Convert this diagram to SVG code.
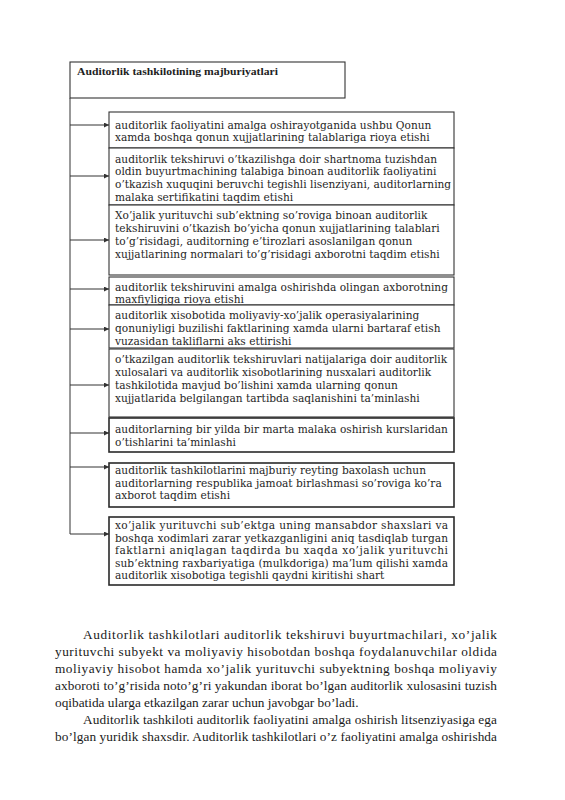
<svg xmlns="http://www.w3.org/2000/svg" width="565" height="800" viewBox="0 0 565 800">
<defs>
<style>
.bg{fill:#ffffff}
.box{fill:#ffffff;stroke:#333333;stroke-width:1.1}
.boxb{fill:#ffffff;stroke:#2a2a2a;stroke-width:1.6}
.t{font-family:"DejaVu Serif","Liberation Serif",serif;font-size:10.6px;fill:#262626}
.title{font-family:"Liberation Serif","Times New Roman",serif;font-size:11px;font-weight:bold;fill:#1e1e1e}
.p{font-family:"Liberation Serif","Times New Roman",serif;font-size:13.3px;fill:#1a1a1a}
.ln{fill:none;stroke:#333333;stroke-width:1}
</style>
<marker id="ah" viewBox="0 0 10 10" refX="10" refY="5" markerWidth="5" markerHeight="5" orient="auto" markerUnits="userSpaceOnUse">
<path d="M0,0 L10,5 L0,10 z" fill="#333333"/>
</marker>
</defs>
<rect class="bg" x="0" y="0" width="565" height="800"/>

<g id="header">
<rect class="box" x="70" y="62" width="275" height="36"/>
<text class="title" x="77" y="75" textLength="201" lengthAdjust="spacingAndGlyphs">Auditorlik tashkilotining majburiyatlari</text>
</g>

<g id="connectors">
<path class="ln" d="M70,98 L70,534"/>
<path class="ln" d="M70,125 L109,125" marker-end="url(#ah)"/>
<path class="ln" d="M70,176 L109,176" marker-end="url(#ah)"/>
<path class="ln" d="M70,240 L109,240" marker-end="url(#ah)"/>
<path class="ln" d="M70,289 L109,289" marker-end="url(#ah)"/>
<path class="ln" d="M70,329 L109,329" marker-end="url(#ah)"/>
<path class="ln" d="M70,385 L109,385" marker-end="url(#ah)"/>
<path class="ln" d="M70,433 L109,433" marker-end="url(#ah)"/>
<path class="ln" d="M70,467 L109,467" marker-end="url(#ah)"/>
<path class="ln" d="M70,534 L109,534" marker-end="url(#ah)"/>
</g>

<g id="n1">
<rect class="box" x="109" y="112" width="345" height="36"/>
<text class="t" x="115" y="128.5">auditorlik faoliyatini amalga oshirayotganida ushbu Qonun</text>
<text class="t" x="115" y="141">xamda boshqa qonun xujjatlarining talablariga rioya etishi</text>
</g>

<g id="n2">
<rect class="box" x="109" y="148" width="345" height="57"/>
<text class="t" x="115" y="162.5">auditorlik tekshiruvi o’tkazilishga doir shartnoma tuzishdan</text>
<text class="t" x="115" y="175">oldin buyurtmachining talabiga binoan auditorlik faoliyatini</text>
<text class="t" x="115" y="187.5">o’tkazish xuquqini beruvchi tegishli lisenziyani, auditorlarning</text>
<text class="t" x="115" y="200.5">malaka sertifikatini taqdim etishi</text>
</g>

<g id="n3">
<rect class="box" x="109" y="205" width="345" height="70"/>
<text class="t" x="115" y="219">Xo’jalik yurituvchi sub’ektning so’roviga binoan auditorlik</text>
<text class="t" x="115" y="232">tekshiruvini o’tkazish bo’yicha qonun xujjatlarining talablari</text>
<text class="t" x="115" y="245">to’g’risidagi, auditorning e’tirozlari asoslanilgan qonun</text>
<text class="t" x="115" y="258">xujjatlarining normalari to’g’risidagi axborotni taqdim etishi</text>
</g>

<g id="n4">
<rect class="box" x="109" y="277" width="345" height="28"/>
<text class="t" x="115" y="291">auditorlik tekshiruvini amalga oshirishda olingan axborotning</text>
<text class="t" x="115" y="303">maxfiyligiga rioya etishi</text>
</g>

<g id="n5">
<rect class="box" x="109" y="305" width="345" height="43"/>
<text class="t" x="115" y="319">auditorlik xisobotida moliyaviy-xo’jalik operasiyalarining</text>
<text class="t" x="115" y="332">qonuniyligi buzilishi faktlarining xamda ularni bartaraf etish</text>
<text class="t" x="115" y="345">vuzasidan takliflarni aks ettirishi</text>
</g>

<g id="n6">
<rect class="box" x="109" y="349" width="345" height="68"/>
<text class="t" x="115" y="363">o’tkazilgan auditorlik tekshiruvlari natijalariga doir auditorlik</text>
<text class="t" x="115" y="376">xulosalari va auditorlik xisobotlarining nusxalari auditorlik</text>
<text class="t" x="115" y="389">tashkilotida mavjud bo’lishini xamda ularning qonun</text>
<text class="t" x="115" y="402">xujjatlarida belgilangan tartibda saqlanishini ta’minlashi</text>
</g>

<g id="n7">
<rect class="boxb" x="109" y="418" width="345" height="34"/>
<text class="t" x="115" y="433">auditorlarning bir yilda bir marta malaka oshirish kurslaridan</text>
<text class="t" x="115" y="446">o’tishlarini ta’minlashi</text>
</g>

<g id="n8">
<rect class="boxb" x="109" y="463" width="345" height="44"/>
<text class="t" x="115" y="474">auditorlik tashkilotlarini majburiy reyting baxolash uchun</text>
<text class="t" x="115" y="486.5">auditorlarning respublika jamoat birlashmasi so’roviga ko’ra</text>
<text class="t" x="115" y="499">axborot taqdim etishi</text>
</g>

<g id="n9">
<rect class="boxb" x="109" y="517" width="345" height="68"/>
<text class="t" x="115" y="529" textLength="333" lengthAdjust="spacing">xo’jalik yurituvchi sub’ektga uning mansabdor shaxslari va</text>
<text class="t" x="115" y="541.5" textLength="333" lengthAdjust="spacing">boshqa xodimlari zarar yetkazganligini aniq tasdiqlab turgan</text>
<text class="t" x="115" y="554" textLength="333" lengthAdjust="spacing">faktlarni aniqlagan taqdirda bu xaqda xo’jalik yurituvchi</text>
<text class="t" x="115" y="566.5" textLength="333" lengthAdjust="spacing">sub’ektning raxbariyatiga (mulkdoriga) ma’lum qilishi xamda</text>
<text class="t" x="115" y="579">auditorlik xisobotiga tegishli qaydni kiritishi shart</text>
</g>

<g id="paragraph">
<text class="p" x="83" y="639" textLength="414" lengthAdjust="spacing">Auditorlik tashkilotlari auditorlik tekshiruvi buyurtmachilari, xo’jalik</text>
<text class="p" x="55" y="656" textLength="442" lengthAdjust="spacing">yurituvchi subyekt va moliyaviy hisobotdan boshqa foydalanuvchilar oldida</text>
<text class="p" x="55" y="673" textLength="442" lengthAdjust="spacing">moliyaviy hisobot hamda xo’jalik yurituvchi subyektning boshqa moliyaviy</text>
<text class="p" x="55" y="690" textLength="442" lengthAdjust="spacing">axboroti to’g’risida noto’g’ri yakundan iborat bo’lgan auditorlik xulosasini tuzish</text>
<text class="p" x="55" y="707">oqibatida ularga etkazilgan zarar uchun javobgar bo’ladi.</text>
<text class="p" x="83" y="724" textLength="414" lengthAdjust="spacing">Auditorlik tashkiloti auditorlik faoliyatini amalga oshirish litsenziyasiga ega</text>
<text class="p" x="55" y="741" textLength="442" lengthAdjust="spacing">bo’lgan yuridik shaxsdir. Auditorlik tashkilotlari o’z faoliyatini amalga oshirishda</text>
</g>
</svg>
